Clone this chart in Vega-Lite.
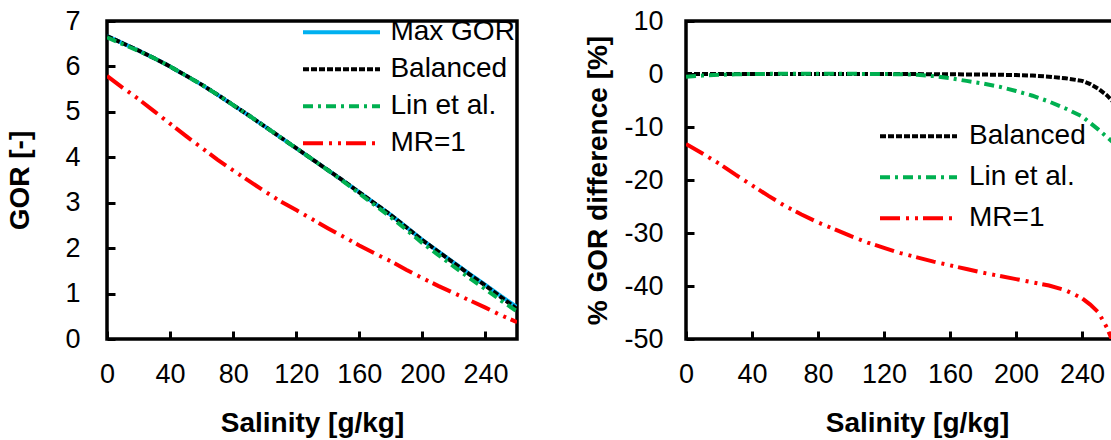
{
  "$schema": "https://vega.github.io/schema/vega-lite/v6.json",
  "background": "white",
  "padding": {"left": 5, "top": 5, "right": 0, "bottom": 0},
  "bounds": "flush",
  "spacing": 169,
  "config": {
    "font": "Liberation Sans",
    "view": {"stroke": "black", "strokeWidth": 3.5},
    "axis": {
      "grid": false, "domain": false, "tickColor": "black", "tickWidth": 3, "tickSize": -8,
      "labelFont": "Liberation Sans", "labelFontSize": 27, "labelColor": "black",
      "labelFlush": false, "labelOverlap": false,
      "titleFont": "Liberation Sans", "titleFontSize": 28, "titleFontWeight": "bold", "titleColor": "black"
    },
    "legend": {
      "labelFont": "Liberation Sans", "labelFontSize": 28, "labelColor": "black", "labelLimit": 0,
      "symbolType": "stroke", "symbolSize": 5929, "symbolStrokeWidth": 4, "rowPadding": 0, "padding": 0
    }
  },
  "datasets": {
    "gor": [
      {"s":0,"series":"Max GOR","v":6.67},{"s":10,"series":"Max GOR","v":6.51},{"s":20,"series":"Max GOR","v":6.35},{"s":30,"series":"Max GOR","v":6.18},{"s":40,"series":"Max GOR","v":6.00},{"s":50,"series":"Max GOR","v":5.80},{"s":60,"series":"Max GOR","v":5.60},{"s":70,"series":"Max GOR","v":5.38},{"s":80,"series":"Max GOR","v":5.15},{"s":90,"series":"Max GOR","v":4.92},{"s":100,"series":"Max GOR","v":4.68},{"s":110,"series":"Max GOR","v":4.44},{"s":120,"series":"Max GOR","v":4.20},{"s":130,"series":"Max GOR","v":3.96},{"s":140,"series":"Max GOR","v":3.72},{"s":150,"series":"Max GOR","v":3.48},{"s":160,"series":"Max GOR","v":3.23},{"s":170,"series":"Max GOR","v":2.98},{"s":180,"series":"Max GOR","v":2.73},{"s":190,"series":"Max GOR","v":2.46},{"s":200,"series":"Max GOR","v":2.18},{"s":210,"series":"Max GOR","v":1.93},{"s":220,"series":"Max GOR","v":1.68},{"s":230,"series":"Max GOR","v":1.43},{"s":240,"series":"Max GOR","v":1.19},{"s":250,"series":"Max GOR","v":0.94},{"s":260,"series":"Max GOR","v":0.70},
      {"s":0,"series":"Balanced","v":6.67},{"s":10,"series":"Balanced","v":6.51},{"s":20,"series":"Balanced","v":6.35},{"s":30,"series":"Balanced","v":6.18},{"s":40,"series":"Balanced","v":6.00},{"s":50,"series":"Balanced","v":5.80},{"s":60,"series":"Balanced","v":5.60},{"s":70,"series":"Balanced","v":5.38},{"s":80,"series":"Balanced","v":5.15},{"s":90,"series":"Balanced","v":4.92},{"s":100,"series":"Balanced","v":4.68},{"s":110,"series":"Balanced","v":4.44},{"s":120,"series":"Balanced","v":4.20},{"s":130,"series":"Balanced","v":3.96},{"s":140,"series":"Balanced","v":3.72},{"s":150,"series":"Balanced","v":3.48},{"s":160,"series":"Balanced","v":3.23},{"s":170,"series":"Balanced","v":2.98},{"s":180,"series":"Balanced","v":2.73},{"s":190,"series":"Balanced","v":2.455},{"s":200,"series":"Balanced","v":2.176},{"s":210,"series":"Balanced","v":1.924},{"s":220,"series":"Balanced","v":1.672},{"s":230,"series":"Balanced","v":1.419},{"s":240,"series":"Balanced","v":1.175},{"s":250,"series":"Balanced","v":0.916},{"s":260,"series":"Balanced","v":0.663},
      {"s":0,"series":"Lin et al.","v":6.64},{"s":10,"series":"Lin et al.","v":6.49},{"s":20,"series":"Lin et al.","v":6.34},{"s":30,"series":"Lin et al.","v":6.18},{"s":40,"series":"Lin et al.","v":6.00},{"s":50,"series":"Lin et al.","v":5.80},{"s":60,"series":"Lin et al.","v":5.60},{"s":70,"series":"Lin et al.","v":5.38},{"s":80,"series":"Lin et al.","v":5.15},{"s":90,"series":"Lin et al.","v":4.92},{"s":100,"series":"Lin et al.","v":4.68},{"s":110,"series":"Lin et al.","v":4.44},{"s":120,"series":"Lin et al.","v":4.20},{"s":130,"series":"Lin et al.","v":3.96},{"s":140,"series":"Lin et al.","v":3.716},{"s":150,"series":"Lin et al.","v":3.466},{"s":160,"series":"Lin et al.","v":3.204},{"s":170,"series":"Lin et al.","v":2.941},{"s":180,"series":"Lin et al.","v":2.681},{"s":190,"series":"Lin et al.","v":2.401},{"s":200,"series":"Lin et al.","v":2.110},{"s":210,"series":"Lin et al.","v":1.851},{"s":220,"series":"Lin et al.","v":1.593},{"s":230,"series":"Lin et al.","v":1.338},{"s":240,"series":"Lin et al.","v":1.097},{"s":250,"series":"Lin et al.","v":0.842},{"s":260,"series":"Lin et al.","v":0.609},
      {"s":0,"series":"MR=1","v":5.79},{"s":10,"series":"MR=1","v":5.53},{"s":20,"series":"MR=1","v":5.28},{"s":30,"series":"MR=1","v":5.01},{"s":40,"series":"MR=1","v":4.74},{"s":50,"series":"MR=1","v":4.47},{"s":60,"series":"MR=1","v":4.21},{"s":70,"series":"MR=1","v":3.95},{"s":80,"series":"MR=1","v":3.71},{"s":90,"series":"MR=1","v":3.48},{"s":100,"series":"MR=1","v":3.25},{"s":110,"series":"MR=1","v":3.03},{"s":120,"series":"MR=1","v":2.84},{"s":130,"series":"MR=1","v":2.64},{"s":140,"series":"MR=1","v":2.44},{"s":150,"series":"MR=1","v":2.25},{"s":160,"series":"MR=1","v":2.06},{"s":170,"series":"MR=1","v":1.88},{"s":180,"series":"MR=1","v":1.71},{"s":190,"series":"MR=1","v":1.52},{"s":200,"series":"MR=1","v":1.34},{"s":210,"series":"MR=1","v":1.17},{"s":220,"series":"MR=1","v":1.01},{"s":230,"series":"MR=1","v":0.85},{"s":240,"series":"MR=1","v":0.69},{"s":250,"series":"MR=1","v":0.52},{"s":260,"series":"MR=1","v":0.37}
    ],
    "diff": [
      {"s":0,"series":"Balanced","v":0},{"s":20,"series":"Balanced","v":0},{"s":40,"series":"Balanced","v":0},{"s":60,"series":"Balanced","v":0},{"s":80,"series":"Balanced","v":0},{"s":100,"series":"Balanced","v":0},{"s":120,"series":"Balanced","v":0},{"s":140,"series":"Balanced","v":-0.02},{"s":160,"series":"Balanced","v":-0.05},{"s":180,"series":"Balanced","v":-0.1},{"s":190,"series":"Balanced","v":-0.15},{"s":200,"series":"Balanced","v":-0.2},{"s":210,"series":"Balanced","v":-0.3},{"s":220,"series":"Balanced","v":-0.5},{"s":230,"series":"Balanced","v":-0.8},{"s":240,"series":"Balanced","v":-1.3},{"s":245,"series":"Balanced","v":-1.9},{"s":250,"series":"Balanced","v":-2.8},{"s":255,"series":"Balanced","v":-4.0},{"s":260,"series":"Balanced","v":-5.6},
      {"s":0,"series":"Lin et al.","v":-0.5},{"s":10,"series":"Lin et al.","v":-0.3},{"s":20,"series":"Lin et al.","v":-0.15},{"s":30,"series":"Lin et al.","v":-0.05},{"s":40,"series":"Lin et al.","v":0},{"s":60,"series":"Lin et al.","v":0.05},{"s":80,"series":"Lin et al.","v":0.05},{"s":100,"series":"Lin et al.","v":0.03},{"s":120,"series":"Lin et al.","v":0},{"s":130,"series":"Lin et al.","v":-0.05},{"s":140,"series":"Lin et al.","v":-0.15},{"s":150,"series":"Lin et al.","v":-0.4},{"s":160,"series":"Lin et al.","v":-0.8},{"s":170,"series":"Lin et al.","v":-1.3},{"s":180,"series":"Lin et al.","v":-1.8},{"s":190,"series":"Lin et al.","v":-2.4},{"s":200,"series":"Lin et al.","v":-3.2},{"s":210,"series":"Lin et al.","v":-4.1},{"s":220,"series":"Lin et al.","v":-5.2},{"s":230,"series":"Lin et al.","v":-6.5},{"s":240,"series":"Lin et al.","v":-8.0},{"s":250,"series":"Lin et al.","v":-10.5},{"s":260,"series":"Lin et al.","v":-13.2},
      {"s":0,"series":"MR=1","v":-13.2},{"s":10,"series":"MR=1","v":-15.0},{"s":20,"series":"MR=1","v":-16.9},{"s":30,"series":"MR=1","v":-19.0},{"s":40,"series":"MR=1","v":-21.0},{"s":50,"series":"MR=1","v":-23.0},{"s":60,"series":"MR=1","v":-24.9},{"s":70,"series":"MR=1","v":-26.5},{"s":80,"series":"MR=1","v":-28.0},{"s":90,"series":"MR=1","v":-29.3},{"s":100,"series":"MR=1","v":-30.6},{"s":110,"series":"MR=1","v":-31.8},{"s":120,"series":"MR=1","v":-32.8},{"s":130,"series":"MR=1","v":-33.8},{"s":140,"series":"MR=1","v":-34.6},{"s":150,"series":"MR=1","v":-35.4},{"s":160,"series":"MR=1","v":-36.1},{"s":170,"series":"MR=1","v":-36.8},{"s":180,"series":"MR=1","v":-37.5},{"s":190,"series":"MR=1","v":-38.1},{"s":200,"series":"MR=1","v":-38.7},{"s":210,"series":"MR=1","v":-39.3},{"s":220,"series":"MR=1","v":-39.9},{"s":230,"series":"MR=1","v":-40.8},{"s":240,"series":"MR=1","v":-42.3},{"s":245,"series":"MR=1","v":-43.5},{"s":250,"series":"MR=1","v":-45.0},{"s":255,"series":"MR=1","v":-47.8},{"s":260,"series":"MR=1","v":-51.5}
    ]
  },
  "resolve": {
    "scale": {"color": "independent", "strokeDash": "independent", "x": "independent", "y": "independent"},
    "legend": {"color": "independent", "strokeDash": "independent"}
  },
  "hconcat": [
    {
      "width": 410, "height": 318,
      "data": {"name": "gor"},
      "mark": {"type": "line", "strokeWidth": 4, "clip": true},
      "encoding": {
        "x": {"field": "s", "type": "quantitative", "scale": {"domain": [0, 260], "nice": false},
              "axis": {"values": [0,40,80,120,160,200,240], "title": "Salinity [g/kg]", "labelPadding": 30, "titlePadding": 22}},
        "y": {"field": "v", "type": "quantitative", "scale": {"domain": [0, 7], "nice": false},
              "axis": {"values": [0,1,2,3,4,5,6,7], "title": "GOR [-]", "labelPadding": 35, "titlePadding": 30}},
        "color": {"field": "series", "type": "nominal",
                  "scale": {"domain": ["Max GOR","Balanced","Lin et al.","MR=1"], "range": ["#00B0F0","#000000","#00B050","#FF0000"]},
                  "legend": {"title": null, "orient": "none", "legendX": 194, "legendY": -7, "clipHeight": 36.4, "labelOffset": 8.4}},
        "strokeDash": {"field": "series", "type": "nominal",
                  "scale": {"domain": ["Max GOR","Balanced","Lin et al.","MR=1"], "range": [[1,0],[6,2],[10,5,3,5],[20,6,3,6,3,5]]},
                  "legend": {"title": null, "orient": "none", "legendX": 194, "legendY": -7, "clipHeight": 36.4, "labelOffset": 8.4}}
      }
    },
    {
      "width": 462, "height": 318,
      "layer": [
        {
          "mark": {"type": "rule", "color": "black", "strokeWidth": 3},
          "encoding": {"y": {"datum": 0}}
        },
        {
          "data": {"name": "diff"},
          "mark": {"type": "line", "strokeWidth": 4, "clip": true},
          "encoding": {
            "x": {"field": "s", "type": "quantitative", "scale": {"domain": [0, 280], "nice": false},
                  "axis": {"values": [0,40,80,120,160,200,240], "title": "Salinity [g/kg]", "labelPadding": 30, "titlePadding": 22}},
            "y": {"field": "v", "type": "quantitative", "scale": {"domain": [-50, 10], "nice": false},
                  "axis": {"values": [-50,-40,-30,-20,-10,0,10], "title": "% GOR difference [%]", "labelPadding": 31, "titlePadding": 11,
                           "labelExpr": "replace(datum.label, '\u2212', '-')"}},
            "color": {"field": "series", "type": "nominal",
                      "scale": {"domain": ["Balanced","Lin et al.","MR=1"], "range": ["#000000","#00B050","#FF0000"]},
                      "legend": {"title": null, "orient": "none", "legendX": 192, "legendY": 95, "clipHeight": 40.5, "labelOffset": 10}},
            "strokeDash": {"field": "series", "type": "nominal",
                      "scale": {"domain": ["Balanced","Lin et al.","MR=1"], "range": [[6,2],[10,5,3,5],[20,6,3,6,3,5]]},
                      "legend": {"title": null, "orient": "none", "legendX": 192, "legendY": 95, "clipHeight": 40.5, "labelOffset": 10}}
          }
        }
      ]
    }
  ]
}
